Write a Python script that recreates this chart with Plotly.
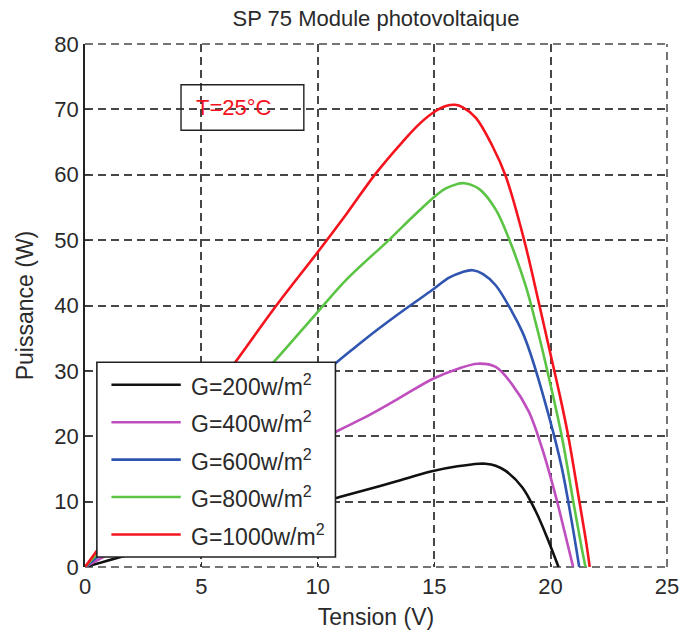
import plotly.graph_objects as go

# Irradiance levels and curve colours
labels = ["G=200w/m<sup>2</sup>", "G=400w/m<sup>2</sup>", "G=600w/m<sup>2</sup>",
          "G=800w/m<sup>2</sup>", "G=1000w/m<sup>2</sup>"]
colors = ["#111111", "#bf4fbf", "#2f55b0", "#5cc444", "#f5141e"]

# P(V) curves of the SP 75 module at 25 °C
v_200 = [0, 2, 4, 6, 8, 10.84, 12.68, 13.39, 14.85, 16.0, 16.94, 17.2, 17.64, 18.07, 18.78, 19.35, 19.84, 20.34]
p_200 = [0, 2.0, 3.9, 5.9, 7.9, 10.6, 12.4, 13.1, 14.6, 15.4, 15.8, 15.8, 15.5, 14.7, 12.2, 8.6, 4.6, 0]

v_400 = [0, 2, 4, 6, 8, 10.84, 11.98, 13.39, 14.95, 16.0, 16.87, 17.64, 18.35, 19.06, 19.63, 20.2, 20.62, 20.97]
p_400 = [0, 3.9, 7.7, 11.6, 15.4, 20.8, 22.8, 25.6, 28.8, 30.3, 31.1, 30.6, 27.9, 23.8, 18.2, 11.1, 5.1, 0]

v_600 = [0, 2, 4, 6, 8, 10.84, 11.98, 13.39, 14.81, 15.66, 16.2, 16.65, 17.1, 17.64, 18.35, 18.78, 19.13, 19.91, 20.48, 20.9, 21.23]
p_600 = [0, 5.8, 11.7, 17.5, 23.3, 31.4, 34.7, 38.5, 42.1, 44.3, 45.1, 45.4, 44.8, 43.1, 39.0, 36.0, 32.7, 23.3, 15.2, 7.1, 0]

v_800 = [0, 2, 4, 6, 8.12, 9.99, 11.27, 13.11, 14.0, 15.0, 15.5, 16.0, 16.3, 16.94, 17.64, 18.21, 18.92, 19.35, 19.65, 20.48, 20.97, 21.33, 21.5]
p_800 = [0, 7.8, 15.6, 23.3, 31.4, 39.0, 44.1, 50.2, 53.3, 56.6, 57.9, 58.6, 58.7, 57.8, 54.7, 50.2, 43.1, 37.5, 33.2, 20.0, 10.1, 3.0, 0]

v_1000 = [0, 2, 4, 6.45, 8.22, 9.96, 11.27, 12.47, 13.68, 14.4, 15.0, 15.5, 15.9, 16.23, 16.79, 17.5, 18.07, 18.85, 19.49, 20.0, 20.4, 20.76, 21.19, 21.54, 21.68]
p_1000 = [0, 9.7, 19.4, 31.3, 40.0, 48.0, 54.2, 60.1, 65.2, 67.9, 69.6, 70.5, 70.7, 70.3, 68.7, 64.4, 59.8, 50.2, 40.5, 32.5, 26.2, 20.0, 11.0, 3.5, 0]

voltages = [v_200, v_400, v_600, v_800, v_1000]
powers = [p_200, p_400, p_600, p_800, p_1000]

x_ticks = [0, 5, 10, 15, 20, 25]
y_ticks = [0, 10, 20, 30, 40, 50, 60, 70, 80]

FONT = "Liberation Sans, Arial, Helvetica, sans-serif"
TXT = "#2a2a2a"
GRID = "#474747"
DASH = "8px,5px"

fig = go.Figure()
for v, p, name, col in zip(voltages, powers, labels, colors):
    fig.add_trace(go.Scatter(
        x=v, y=p, mode="lines", name=name, showlegend=False,
        line=dict(color=col, width=2.6, shape="spline", smoothing=1.0),
    ))

grid = dict(showgrid=True, gridcolor=GRID, gridwidth=1.5, griddash=DASH,
            zeroline=False, ticks="inside", ticklen=5, tickcolor="#333",
            tickfont=dict(size=22, color=TXT, family=FONT))

fig.update_xaxes(range=[0, 25], tickvals=x_ticks, showline=False, ticklabelstandoff=4,
                 title=dict(text="Tension (V)", font=dict(size=23, color=TXT, family=FONT), standoff=10),
                 **grid)
fig.update_yaxes(range=[0, 80], tickvals=y_ticks, showline=True, linecolor="#222", linewidth=1.6,
                 title=dict(text="Puissance (W)", font=dict(size=23, color=TXT, family=FONT), standoff=14),
                 **grid)

shapes = []
# Dashed frame on the bottom, right and top edges (continuation of the grid)
for x0, y0, x1, y1 in [(0, 0, 1, 0), (1, 0, 1, 1), (0, 1, 1, 1)]:
    shapes.append(dict(type="line", xref="x domain", yref="y domain", x0=x0, y0=y0, x1=x1, y1=y1,
                       line=dict(color=GRID, width=1.5, dash=DASH), layer="below"))

# Legend box in the lower-left corner of the axes
shapes.append(dict(type="rect", xref="x domain", yref="y domain", x0=0.0204, x1=0.4303, y0=0.019, y1=0.3916,
                   line=dict(color="#222", width=1.6), fillcolor="white", layer="above"))
annotations = []
row_top, row_step = 0.3485, 0.0716
for i, (name, col) in enumerate(zip(labels, colors)):
    yy = row_top - i * row_step
    shapes.append(dict(type="line", xref="x domain", yref="y domain", x0=0.0454, x1=0.1645, y0=yy, y1=yy,
                       line=dict(color=col, width=2.6), layer="above"))
    annotations.append(dict(xref="x domain", yref="y domain", x=0.1786, y=yy, xanchor="left", yanchor="middle",
                            text=name, showarrow=False, font=dict(size=23, color=TXT, family=FONT)))

# Temperature note
shapes.append(dict(type="rect", xref="x domain", yref="y domain", x0=0.165, x1=0.376, y0=0.835, y1=0.922,
                   line=dict(color="#222", width=1.4), fillcolor="rgba(0,0,0,0)", layer="above"))
annotations.append(dict(xref="x domain", yref="y domain", x=0.187, y=0.878, xanchor="left", yanchor="middle",
                        text="T=25°C", showarrow=False, font=dict(size=22, color="#f5141e", family=FONT)))

fig.update_layout(
    width=691, height=637,
    margin=dict(l=85, r=18, t=44, b=67),
    paper_bgcolor="white", plot_bgcolor="white",
    title=dict(text="SP 75 Module photovoltaique", x=0.5, xref="paper", xanchor="center",
               y=1 - 18 / 637, yref="container", yanchor="middle",
               font=dict(size=22, color=TXT, family=FONT)),
    shapes=shapes, annotations=annotations,
)

fig.write_html("out.html")
